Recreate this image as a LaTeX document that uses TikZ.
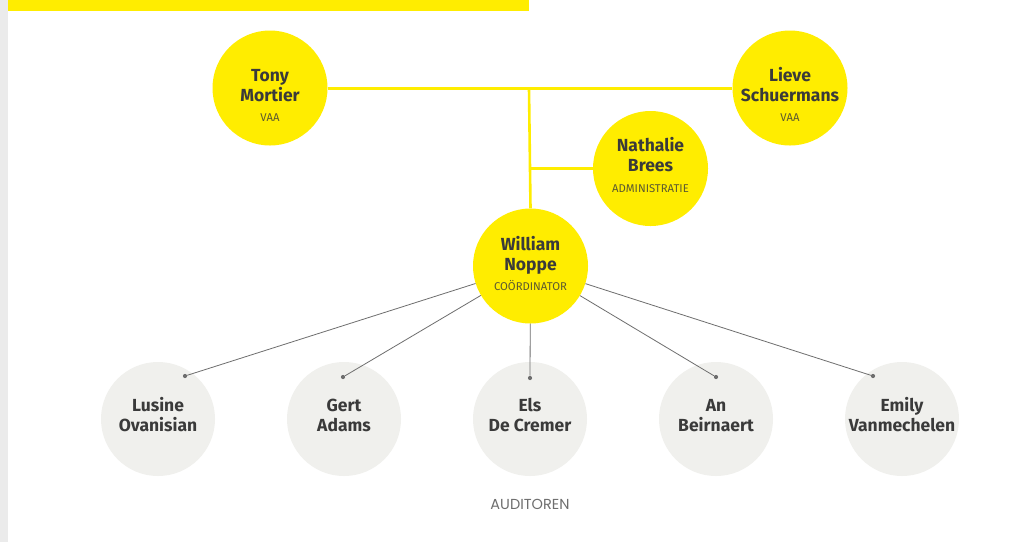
\documentclass[tikz,border=0pt]{standalone}
\usepackage{fontspec}
\setmainfont{Fira Sans}
\newfontfamily\audfont{Poppins}
\definecolor{vyellow}{HTML}{FFED00}
\definecolor{vgray}{HTML}{F0F0ED}
\definecolor{vtext}{HTML}{3A3A3A}
\definecolor{vsub}{HTML}{5C5A30}
\definecolor{vline}{HTML}{6E6E6E}
\definecolor{vstrip}{HTML}{EBEBEB}
\begin{document}
\begin{tikzpicture}[x=1pt,y=-1pt,
  boss/.style={circle,fill=vyellow,minimum size=115pt,inner sep=0pt},
  aud/.style={circle,fill=vgray,minimum size=114pt,inner sep=0pt},
  nm/.style={anchor=base,inner sep=0pt,text=vtext,font=\fontsize{17.5}{20}\selectfont\bfseries},
  sb/.style={anchor=base,inner sep=0pt,text=vsub,font=\fontsize{11.3}{12}\selectfont},
  yline/.style={draw=vyellow,line width=2.6pt},
  gline/.style={draw=vline,line width=0.8pt},
  dot/.style={circle,fill=vline,inner sep=0pt,minimum size=4.2pt}]
\useasboundingbox (0,0) rectangle (1036,542);
\fill[white] (0,0) rectangle (1036,542);
\fill[vstrip] (0,0) rectangle (8,542);
\fill[vyellow] (8,0) rectangle (529,11);
\coordinate (j1) at (529,88.5);
\coordinate (j2) at (529,168.5);
% yellow circles
\node[boss] (tony) at (270,88) {};
\node[boss] (lieve) at (790,88) {};
\node[boss] (nath) at (650.5,168.5) {};
\node[boss] (will) at (530.5,266) {};
\draw[yline] (tony.east |- j1) -- (lieve.west |- j1);
\draw[yline] (j1) -- (will.north);
\draw[yline] (j2) -- (nath.west);
% texts
\node[nm] (tony1) at (270,81) {Tony};
\node[nm] (tony2) at (270,101) {Mortier};
\node[sb] (tony3) at (270,121) {VAA};
\node[nm] (lieve1) at (790,81) {Lieve};
\node[nm] (lieve2) at (790,101) {Schuermans};
\node[sb] (lieve3) at (790,121) {VAA};
\node[nm] (nath1) at (650.5,151) {Nathalie};
\node[nm] (nath2) at (650.5,171) {Brees};
\node[sb] (nath3) at (650.5,192) {ADMINISTRATIE};
\node[nm] (will1) at (530.5,250) {William};
\node[nm] (will2) at (530.5,270) {Noppe};
\node[sb] (will3) at (530.5,290) {COÖRDINATOR};
% auditors
\node[aud] (a1) at (158,419) {};
\node[aud] (a2) at (344,419) {};
\node[aud] (a3) at (530,419) {};
\node[aud] (a4) at (716,419) {};
\node[aud] (a5) at (902,419) {};
\node[nm] (a1t) at (158,411) {Lusine};
\node[nm] (a1b) at (158,431) {Ovanisian};
\node[nm] (a2t) at (344,411) {Gert};
\node[nm] (a2b) at (344,431) {Adams};
\node[nm] (a3t) at (530,411) {Els};
\node[nm] (a3b) at (530,431) {De Cremer};
\node[nm] (a4t) at (716,411) {An};
\node[nm] (a4b) at (716,431) {Beirnaert};
\node[nm] (a5t) at (902,411) {Emily};
\node[nm] (a5b) at (902,431) {Vanmechelen};
\node[dot] (d1) at (185,376) {};
\node[dot] (d2) at (343,377) {};
\node[dot] (d3) at (530,378) {};
\node[dot] (d4) at (716,377) {};
\node[dot] (d5) at (873,376) {};
\draw[gline] (will) -- (d1);
\draw[gline] (will) -- (d2);
\draw[gline] (will) -- (d3);
\draw[gline] (will) -- (d4);
\draw[gline] (will) -- (d5);
\node[anchor=base,inner sep=0pt,font=\audfont\fontsize{14.5}{16}\selectfont,text=vline] (lab) at (530,509) {AUDITOREN};
\end{tikzpicture}
\end{document}
